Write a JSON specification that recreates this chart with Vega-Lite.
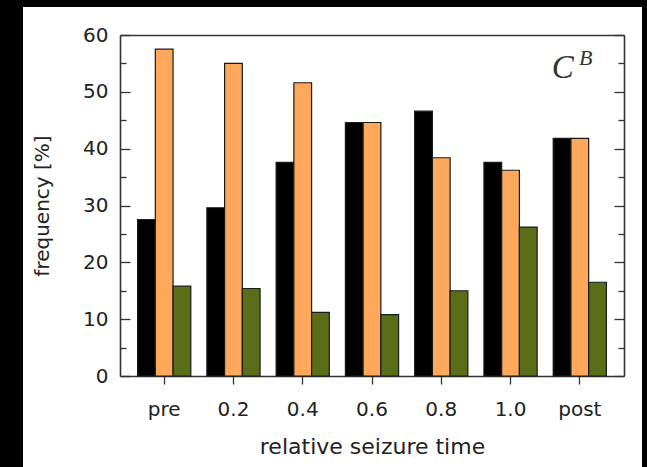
{
  "$schema": "https://vega.github.io/schema/vega-lite/v6.json",
  "width": 619,
  "height": 460,
  "autosize": {"type": "none"},
  "padding": {"left": 23, "top": 7, "right": 5, "bottom": 0},
  "background": "#000000",
  "config": {"view": {"fill": "#ffffff", "stroke": null}, "font": "DejaVu Sans"},
  "datasets": {
    "bars": [
      {"time": "pre", "series": "s1", "value": 27.5},
      {"time": "pre", "series": "s2", "value": 57.5},
      {"time": "pre", "series": "s3", "value": 15.8},
      {"time": "0.2", "series": "s1", "value": 29.6},
      {"time": "0.2", "series": "s2", "value": 55.0},
      {"time": "0.2", "series": "s3", "value": 15.4},
      {"time": "0.4", "series": "s1", "value": 37.6},
      {"time": "0.4", "series": "s2", "value": 51.6},
      {"time": "0.4", "series": "s3", "value": 11.2},
      {"time": "0.6", "series": "s1", "value": 44.6},
      {"time": "0.6", "series": "s2", "value": 44.6},
      {"time": "0.6", "series": "s3", "value": 10.8},
      {"time": "0.8", "series": "s1", "value": 46.6},
      {"time": "0.8", "series": "s2", "value": 38.4},
      {"time": "0.8", "series": "s3", "value": 15.0},
      {"time": "1.0", "series": "s1", "value": 37.6},
      {"time": "1.0", "series": "s2", "value": 36.2},
      {"time": "1.0", "series": "s3", "value": 26.2},
      {"time": "post", "series": "s1", "value": 41.8},
      {"time": "post", "series": "s2", "value": 41.8},
      {"time": "post", "series": "s3", "value": 16.5}
    ],
    "labelC": [{"time": "post", "v": 54.2, "t": "C"}],
    "labelB": [{"time": "post", "v": 56.0, "t": "B"}]
  },
  "layer": [
    {
      "data": {"name": "bars"},
      "mark": {"type": "bar", "stroke": "#1a1a1a", "strokeWidth": 1.2},
      "encoding": {
        "x": {
          "field": "time", "type": "nominal",
          "sort": ["pre", "0.2", "0.4", "0.6", "0.8", "1.0", "post"],
          "scale": {"range": [97, 601], "paddingInner": 0.232, "paddingOuter": 0.254},
          "axis": {
            "orient": "bottom", "offset": -91, "tickSize": 8, "tickColor": "#333", "tickWidth": 1.3,
            "domainColor": "#333", "domainWidth": 1.6, "labelAngle": 0, "labelFontSize": 20,
            "labelPadding": 15, "labelColor": "#222", "title": "relative seizure time",
            "titleFontSize": 22, "titleFontWeight": "normal", "titleColor": "#222", "titlePadding": 17
          }
        },
        "xOffset": {"field": "series", "type": "nominal", "sort": ["s1", "s2", "s3"]},
        "y": {
          "field": "value", "type": "quantitative",
          "scale": {"domain": [0, 60], "range": [369, 28], "nice": false},
          "axis": {
            "orient": "left", "offset": -97,
            "values": [0, 5, 10, 15, 20, 25, 30, 35, 40, 45, 50, 55, 60],
            "tickSize": {"condition": {"test": "datum.value % 10 === 0", "value": -10}, "value": -6},
            "labelExpr": "datum.value % 10 === 0 ? datum.label : ''",
            "labelPadding": 22, "labelFontSize": 20, "labelColor": "#222",
            "tickColor": "#333", "tickWidth": 1.3, "domainColor": "#333", "domainWidth": 1.6,
            "grid": false, "title": "frequency [%]", "titleFontSize": 20, "titleFontWeight": "normal",
            "titleColor": "#222", "titlePadding": 30
          }
        },
        "color": {
          "field": "series", "type": "nominal",
          "scale": {"domain": ["s1", "s2", "s3"], "range": ["#000000", "#fda85a", "#5a6d19"]},
          "legend": null
        }
      }
    },
    {
      "data": {"name": "labelC"},
      "mark": {"type": "text", "font": "Liberation Serif", "fontStyle": "italic", "fontSize": 33, "dx": -17, "baseline": "middle", "color": "#333"},
      "encoding": {
        "x": {
          "field": "time", "type": "nominal",
          "sort": ["pre", "0.2", "0.4", "0.6", "0.8", "1.0", "post"],
          "axis": {"orient": "top", "offset": -28, "ticks": false, "labels": false, "domainColor": "#333", "domainWidth": 1.6, "title": null}
        },
        "y": {
          "field": "v", "type": "quantitative",
          "axis": {
            "orient": "right", "offset": -18,
            "values": [0, 5, 10, 15, 20, 25, 30, 35, 40, 45, 50, 55, 60],
            "tickSize": {"condition": {"test": "datum.value % 10 === 0", "value": -10}, "value": -6},
            "labels": false, "tickColor": "#333", "tickWidth": 1.3, "domainColor": "#333", "domainWidth": 1.6,
            "grid": false, "title": null
          }
        },
        "text": {"field": "t"}
      }
    },
    {
      "data": {"name": "labelB"},
      "mark": {"type": "text", "font": "Liberation Serif", "fontStyle": "italic", "fontSize": 22, "dx": 6, "baseline": "middle", "color": "#333"},
      "encoding": {
        "x": {"field": "time", "type": "nominal", "sort": ["pre", "0.2", "0.4", "0.6", "0.8", "1.0", "post"], "axis": null},
        "y": {"field": "v", "type": "quantitative", "axis": null},
        "text": {"field": "t"}
      }
    }
  ],
  "resolve": {"axis": {"x": "independent", "y": "independent"}}
}
